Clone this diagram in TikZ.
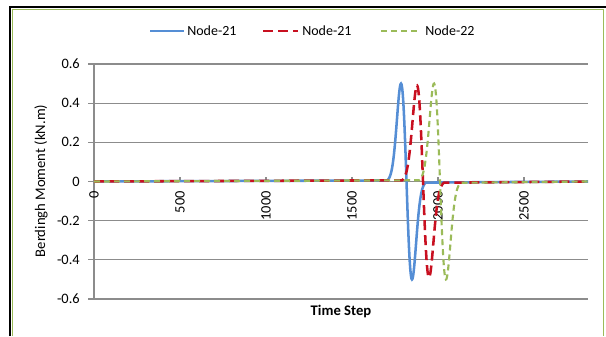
\documentclass[tikz,border=0pt]{standalone}
\usepackage{fontspec}
\setmainfont{Carlito}
\usetikzlibrary{positioning}
\definecolor{serblue}{HTML}{558ED5}
\definecolor{serred}{HTML}{C81020}
\definecolor{sergreen}{HTML}{9BBB59}
\definecolor{gridgray}{HTML}{8C8C8C}
\begin{document}
\begin{tikzpicture}[x=0.75pt,y=-0.75pt,
    declare function={bump(\u)=\u*exp(0.5-\u*\u/2);}]
        \tikzset{gridline/.style={draw=gridgray, line width=0.8pt},
        ytick/.style={anchor=east, inner sep=0pt, font=\fontsize{10.8}{12}\selectfont},
        xtick/.style={rotate=90, anchor=east, inner sep=0pt, font=\fontsize{10.8}{12}\selectfont},
        legtext/.style={anchor=west, inner sep=0pt, font=\fontsize{10.5}{12}\selectfont},
        blueline/.style={serblue, line width=1.9pt},
        redline/.style={serred, line width=1.9pt, dash pattern=on 7.5pt off 3.75pt},
        greenline/.style={sergreen, line width=1.6pt, dash pattern=on 4.5pt off 3pt},
        }
        \useasboundingbox (0,0) rectangle (606,336);
        %% frame
        \draw[black, line width=1.5pt] (10,336) -- (10,7) -- (606,7);
        \draw[sergreen, line width=1.2pt] (12.5,336) -- (12.5,9.5) -- (603.5,9.5) -- (603.5,336);

        %% grid and y axis
        \foreach \v in {0.6,0.4,0.2,0,-0.2,-0.4,-0.6} {
            \pgfmathsetmacro{\py}{181.5-195.8*\v}
            \draw[gridline] (88,\py) -- (588,\py);
            \node[ytick] (yl\v) at (80,\py) {\v};
        }
        \draw[gridline] (94,64) -- (94,299);
        \foreach \t in {0,500,...,2500} {
            \pgfmathsetmacro{\px}{94+0.172*\t}
            \draw[gridline] (\px,181.5) -- (\px,176.5);
            \node[xtick] (xl\t) at (\px,191) {\t};
        }

        %% series
        \draw[blueline] (94,181.5) -- plot[domain=387:426, samples=90] (\x, {181.5+98*bump((\x-406.5)/5.5)}) -- (588,181.5);
        \draw[redline] (94,181.5) -- plot[domain=402:444, samples=90] (\x, {181.5+96*bump((\x-423)/6)}) -- (588,181.5);
        \draw[greenline] (94,181.5) -- plot[domain=419:461, samples=90] (\x, {181.5+98*bump((\x-440)/6)}) -- (588,181.5);

        %% titles
        \node[rotate=90, font=\fontsize{11}{12}\selectfont] (ytitle) at (41,181) {Berdingh Moment (kN.m)};
        \node[font=\bfseries\fontsize{11}{12}\selectfont] (xtitle) at (341,312) {Time Step};

        %% legend
        \node[legtext] (leg1) at (187,31) {Node-21};
        \node[legtext] (leg2) at (302,31) {Node-21};
        \node[legtext] (leg3) at (425,31) {Node-22};
        \draw[blueline] (150,31) -- ([xshift=-2]leg1.west);
        \draw[redline] (263,31) -- ([xshift=-3]leg2.west);
        \draw[greenline] (381,31) -- ([xshift=-3]leg3.west);
\end{tikzpicture}
\end{document}
